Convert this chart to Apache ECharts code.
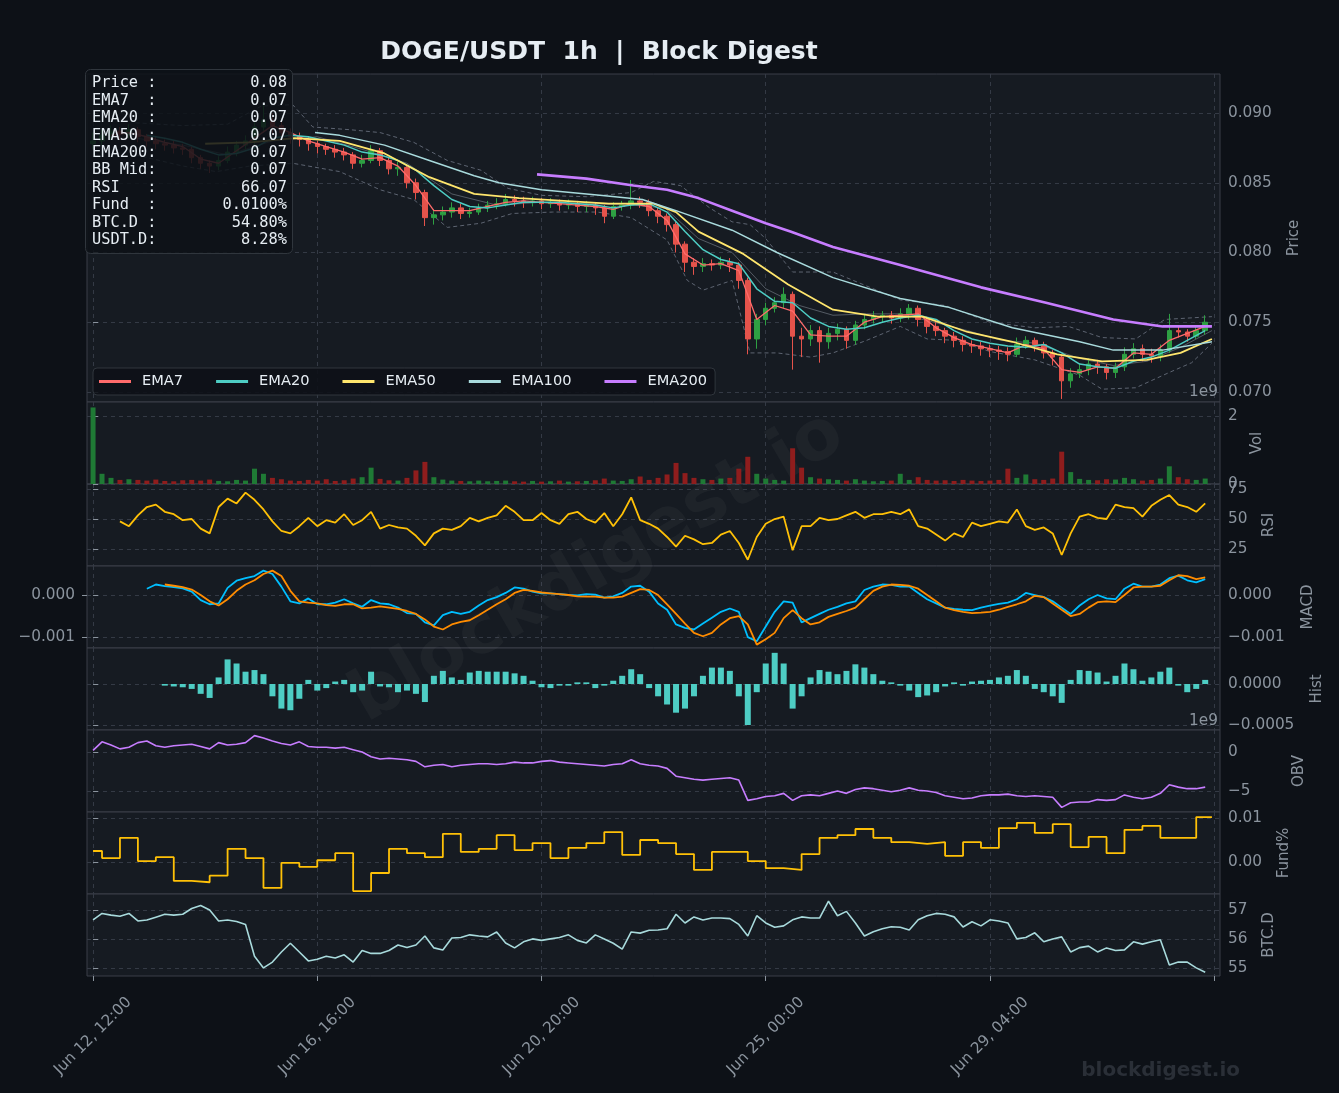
<!DOCTYPE html>
<html>
<head>
<meta charset="utf-8">
<title>DOGE/USDT 1h | Block Digest</title>
<script src="https://cdn.jsdelivr.net/npm/echarts@6.0.0/dist/echarts.min.js"></script>
<style>
html,body{margin:0;padding:0;background:#0d1117;}
#chart{width:1339px;height:1093px;}
</style>
</head>
<body>
<div id="chart"></div>
<script>
// ---- data (hours counted from Jun 12, 12:00) ----
var startUtc = Date.UTC(2024, 5, 12, 12);
var xTickHours = [0, 100, 200, 300, 400, 500];
var sampleStep = 4;      // hours between samples of the 4h arrays
var emaFastStep = 8;     // hours between samples of ema7 / ema20
var fundStep = 8;        // funding changes every 8h

var firstOpen = 0.0878;
var closes = [
 .0880,.0884,.0887,.0885,.0888,.0883,.0880,.0878,.0877,.0875,
 .0874,.0868,.0864,.0862,.0866,.0872,.0877,.0880,.0890,.0895,
 .0891,.0886,.0883,.0881,.0878,.0876,.0874,.0872,.0870,.0864,
 .0866,.0873,.0866,.0860,.0861,.0850,.0843,.0825,.0827,.0829,
 .0832,.0828,.0829,.0832,.0834,.0835,.0838,.0837,.0836,.0837,
 .0835,.0836,.0834,.0835,.0833,.0834,.0832,.0826,.0833,.0834,
 .0837,.0836,.0830,.0826,.0820,.0806,.0793,.0790,.0792,.0791,
 .0793,.0791,.0780,.0738,.0752,.0760,.0764,.0770,.0740,.0738,
 .0744,.0736,.0742,.0745,.0737,.0748,.0752,.0754,.0755,.0753,
 .0756,.0760,.0752,.0747,.0744,.0740,.0737,.0734,.0733,.0731,
 .0730,.0729,.0727,.0734,.0737,.0734,.0728,.0725,.0708,.0713,
 .0716,.0720,.0718,.0714,.0718,.0727,.0731,.0727,.0726,.0730,
 .0744,.0743,.0740,.0744,.0750];
var lows = [
 .0874,.0877,.0881,.0881,.0882,.0879,.0876,.0874,.0873,.0871,
 .0870,.0864,.0860,.0857,.0859,.0864,.0869,.0874,.0877,.0886,
 .0885,.0881,.0878,.0876,.0873,.0871,.0870,.0868,.0866,.0860,
 .0861,.0864,.0862,.0856,.0855,.0846,.0838,.0819,.0820,.0823,
 .0825,.0824,.0825,.0827,.0829,.0831,.0833,.0833,.0832,.0833,
 .0831,.0832,.0830,.0831,.0829,.0829,.0827,.0821,.0824,.0830,
 .0831,.0832,.0826,.0821,.0815,.0800,.0786,.0784,.0786,.0787,
 .0788,.0786,.0774,.0727,.0731,.0748,.0757,.0760,.0716,.0725,
 .0733,.0721,.0731,.0737,.0731,.0734,.0745,.0749,.0750,.0749,
 .0750,.0752,.0747,.0742,.0740,.0735,.0732,.0729,.0728,.0726,
 .0725,.0723,.0722,.0725,.0731,.0729,.0724,.0719,.0695,.0703,
 .0710,.0712,.0713,.0709,.0710,.0715,.0724,.0722,.0721,.0722,
 .0728,.0739,.0736,.0738,.0741];
var highs = [
 .0886,.0888,.0891,.0890,.0892,.0890,.0885,.0883,.0881,.0880,
 .0878,.0876,.0870,.0866,.0869,.0876,.0880,.0884,.0894,.0906,
 .0900,.0894,.0889,.0886,.0883,.0880,.0878,.0877,.0875,.0872,
 .0870,.0877,.0875,.0868,.0865,.0863,.0853,.0845,.0831,.0833,
 .0836,.0835,.0832,.0835,.0837,.0839,.0842,.0841,.0840,.0840,
 .0839,.0839,.0838,.0838,.0837,.0837,.0836,.0834,.0836,.0837,
 .0852,.0840,.0838,.0832,.0828,.0822,.0808,.0796,.0796,.0795,
 .0797,.0796,.0793,.0782,.0756,.0764,.0768,.0775,.0772,.0746,
 .0748,.0747,.0746,.0749,.0747,.0751,.0756,.0758,.0758,.0758,
 .0760,.0763,.0762,.0754,.0750,.0746,.0743,.0740,.0737,.0736,
 .0734,.0733,.0732,.0739,.0740,.0739,.0736,.0730,.0727,.0717,
 .0720,.0724,.0723,.0720,.0721,.0732,.0735,.0734,.0731,.0734,
 .0756,.0748,.0745,.0748,.0755];

var ema7 = [
 null,.0884,.0886,.0883,.0879,.0876,.0867,.0864,.0873,.0882,
 .0891,.0886,.0880,.0876,.0872,.0867,.0868,.0862,.0848,.0830,
 .0830,.0830,.0833,.0836,.0837,.0836,.0835,.0834,.0833,.0831,
 .0835,.0833,.0823,.0799,.0791,.0792,.0787,.0752,.0762,.0758,
 .0741,.0740,.0740,.0750,.0754,.0755,.0756,.0746,.0739,.0734,
 .0731,.0728,.0734,.0731,.0716,.0714,.0718,.0717,.0728,.0727,
 .0737,.0742,.0747];
var ema20 = [
 null,null,null,.0884,.0882,.0879,.0874,.0870,.0871,.0875,
 .0882,.0884,.0883,.0880,.0877,.0872,.0870,.0866,.0859,.0848,
 .0838,.0833,.0832,.0834,.0836,.0836,.0836,.0835,.0834,.0832,
 .0834,.0835,.0829,.0815,.0802,.0795,.0792,.0774,.0765,.0764,
 .0753,.0747,.0745,.0746,.0750,.0753,.0755,.0752,.0744,.0738,
 .0735,.0733,.0732,.0734,.0728,.0720,.0718,.0717,.0722,.0725,
 .0730,.0737,.0744];
var ema50Hours = [50,70,90,110,130,150,170,190,210,230,250,260,270,290,310,330,350,370,390,410,430,450,470,485,499];
var ema50 = [.0878,.0879,.0882,.0880,.0871,.0854,.0842,.0839,.0837,.0835,.0835,.0829,.0815,.0799,.0777,.0759,.0754,.0754,.0743,.0736,.0727,.0722,.0723,.0728,.0738];
var ema100Hours = [99,110,130,150,170,181,200,226,245,260,285,305,330,360,381,410,440,455,477,499];
var ema100 = [.0886,.0884,.0877,.0866,.0855,.0850,.0845,.0841,.0838,.0830,.0816,.0800,.0782,.0767,.0761,.0746,.0736,.0730,.0730,.0736];
var ema200Hours = [198,220,241,256,270,285,300,311,330,360,396,425,455,477,499];
var ema200 = [.0856,.0853,.0848,.0845,.0839,.0830,.0821,.0815,.0804,.0791,.0775,.0764,.0752,.0747,.0747];

var bbUpHours = [19,40,60,75,89,98,115,128,143,158,173,185,200,220,240,250,262,275,285,293,300,312,330,345,360,380,400,420,435,450,465,478,499];
var bbUp = [.0893,.0891,.0892,.0905,.0906,.0890,.0888,.0886,.0879,.0866,.0859,.0846,.0841,.0840,.0843,.0851,.0848,.0832,.0822,.0820,.0810,.0786,.0786,.0776,.0766,.0762,.0750,.0746,.0747,.0739,.0738,.0752,.0754];
var bbLowHours = [19,40,55,70,89,110,128,143,158,173,187,205,225,240,256,265,272,285,293,305,320,330,345,360,372,385,400,420,440,450,465,480,490,499];
var bbLow = [.0870,.0862,.0858,.0862,.0864,.0858,.0845,.0838,.0818,.0821,.0828,.0829,.0829,.0825,.0809,.0780,.0773,.0780,.0728,.0728,.0725,.0728,.0737,.0747,.0738,.0737,.0729,.0723,.0712,.0702,.0703,.0714,.0721,.0735];
var bbMidHours = [19,40,60,80,100,120,140,160,180,200,220,240,255,270,285,300,315,330,345,360,375,390,405,420,440,455,470,485,499];
var bbMid = [.0882,.0877,.0870,.0880,.0883,.0874,.0864,.0842,.0834,.0836,.0835,.0834,.0832,.0810,.0800,.0774,.0762,.0755,.0756,.0756,.0750,.0744,.0737,.0735,.0724,.0719,.0722,.0732,.0744];

// volume in units of 1e9
var volumes = [
 2.25,0.30,0.18,0.12,0.14,0.12,0.10,0.13,0.09,0.08,
 0.11,0.12,0.10,0.13,0.09,0.08,0.12,0.10,0.45,0.30,
 0.18,0.14,0.10,0.09,0.12,0.10,0.14,0.09,0.11,0.16,
 0.20,0.48,0.15,0.11,0.10,0.18,0.40,0.65,0.20,0.13,
 0.10,0.09,0.08,0.10,0.08,0.09,0.10,0.08,0.07,0.09,
 0.07,0.08,0.10,0.07,0.08,0.09,0.11,0.16,0.10,0.09,
 0.14,0.22,0.12,0.18,0.28,0.62,0.32,0.18,0.14,0.12,
 0.16,0.18,0.45,0.80,0.30,0.16,0.12,0.10,1.05,0.48,
 0.20,0.16,0.14,0.12,0.10,0.14,0.10,0.08,0.09,0.10,
 0.30,0.12,0.20,0.12,0.10,0.11,0.09,0.12,0.10,0.09,
 0.10,0.12,0.45,0.18,0.28,0.14,0.12,0.16,0.95,0.35,
 0.15,0.12,0.11,0.14,0.13,0.18,0.14,0.10,0.12,0.16,
 0.52,0.20,0.14,0.12,0.16];

var rsi = [
 null,null,null,48,44,53,60,62,56,54,
 49,50,42,38,60,67,63,72,66,58,
 48,40,38,44,51,44,49,47,54,45,
 49,56,42,45,43,42,36,28,38,42,
 41,44,51,48,51,53,61,56,49,49,
 55,49,46,54,56,50,47,55,44,54,
 68,49,46,42,35,27,36,33,29,30,
 37,40,30,16,35,46,50,52,24,44,
 44,51,49,50,53,56,51,54,54,56,
 54,58,44,42,37,32,38,35,47,44,
 46,48,47,58,44,41,43,38,20,38,
 52,54,51,50,62,60,59,52,61,66,
 70,62,60,56,63];

var macd = [
 null,null,null,null,null,null,.00015,.00025,.00021,.00019,
 .00016,.00008,-.00012,-.00022,-.00020,.00017,.00034,.00040,.00045,.00058,
 .00050,.00020,-.00015,-.00020,-.00008,-.00022,-.00022,-.00018,-.00010,-.00020,
 -.00028,-.00012,-.00020,-.00022,-.00030,-.00043,-.00045,-.00065,-.00072,-.00048,
 -.00040,-.00045,-.00040,-.00025,-.00012,-.00005,.00005,.00018,.00015,.00008,
 .00004,.00004,.00002,.00000,-.00001,.00002,.00001,-.00006,-.00003,.00005,
 .00020,.00022,.00008,-.00020,-.00035,-.00070,-.00078,-.00082,-.00068,-.00054,
 -.00040,-.00032,-.00040,-.00100,-.00110,-.00075,-.00040,-.00015,-.00018,-.00065,
 -.00055,-.00045,-.00035,-.00028,-.00020,-.00015,.00012,.00020,.00025,.00024,
 .00020,.00020,.00005,-.00010,-.00020,-.00030,-.00033,-.00035,-.00036,-.00030,
 -.00025,-.00021,-.00018,-.00010,.00005,.00000,-.00005,-.00015,-.00030,-.00045,
 -.00025,-.00010,.00000,-.00008,-.00010,.00015,.00027,.00020,.00020,.00025,
 .00040,.00046,.00035,.00030,.00038];
var macdSignal = [
 null,null,null,null,null,null,null,null,.00025,.00022,
 .00019,.00013,.00000,-.00015,-.00025,-.00010,.00010,.00025,.00035,.00050,
 .00058,.00045,.00010,-.00015,-.00018,-.00020,-.00024,-.00026,-.00022,-.00022,
 -.00032,-.00030,-.00027,-.00030,-.00033,-.00038,-.00045,-.00058,-.00075,-.00082,
 -.00070,-.00064,-.00060,-.00048,-.00035,-.00022,-.00010,.00005,.00012,.00010,
 .00006,.00004,.00002,.00000,-.00003,-.00004,-.00004,-.00006,-.00006,-.00004,
 .00005,.00014,.00012,.00000,-.00022,-.00045,-.00068,-.00090,-.00098,-.00090,
 -.00070,-.00055,-.00050,-.00070,-.00118,-.00105,-.00090,-.00055,-.00036,-.00055,
 -.00070,-.00065,-.00052,-.00045,-.00038,-.00030,-.00010,.00010,.00020,.00025,
 .00024,.00022,.00015,.00000,-.00015,-.00030,-.00036,-.00040,-.00043,-.00042,
 -.00040,-.00035,-.00028,-.00022,-.00015,-.00002,-.00005,-.00020,-.00035,-.00050,
 -.00045,-.00030,-.00017,-.00015,-.00017,.00000,.00018,.00020,.00020,.00022,
 .00035,.00047,.00045,.00038,.00042];
var macdHist = [
 null,null,null,null,null,null,null,null,-.00002,-.00003,
 -.00004,-.00006,-.00012,-.00017,.00008,.00030,.00025,.00015,.00017,.00012,
 -.00015,-.00030,-.00032,-.00018,.00005,-.00008,-.00005,.00003,.00005,-.00010,
 -.00008,.00015,-.00003,-.00004,-.00010,-.00008,-.00012,-.00022,.00010,.00016,
 .00008,.00005,.00014,.00016,.00015,.00015,.00015,.00013,.00010,.00004,
 -.00004,-.00005,-.00002,-.00002,.00002,.00002,-.00005,-.00002,.00004,.00010,
 .00018,.00012,-.00005,-.00015,-.00025,-.00035,-.00030,-.00015,.00010,.00020,
 .00020,.00016,-.00015,-.00050,-.00010,.00025,.00038,.00025,-.00030,-.00015,
 .00008,.00017,.00015,.00012,.00016,.00024,.00020,.00012,.00004,.00002,
 -.00002,-.00008,-.00016,-.00014,-.00010,-.00003,.00002,-.00002,.00003,.00004,
 .00005,.00008,.00010,.00017,.00010,-.00006,-.00010,-.00015,-.00023,.00005,
 .00017,.00016,.00014,.00003,.00010,.00025,.00018,.00004,.00008,.00015,
 .00020,-.00002,-.00010,-.00006,.00005];

// OBV in units of 1e9
var obv = [
 0.2,1.3,0.9,0.4,0.6,1.2,1.4,0.8,0.6,0.8,
 0.9,1.0,0.7,0.4,1.2,0.9,1.0,1.2,2.1,1.8,
 1.4,1.1,0.9,1.3,0.7,0.6,0.6,0.5,0.6,0.3,
 0.0,-0.6,-0.9,-0.8,-0.9,-1.0,-1.2,-1.9,-1.7,-1.6,
 -1.9,-1.7,-1.6,-1.5,-1.5,-1.6,-1.5,-1.3,-1.4,-1.4,
 -1.2,-1.1,-1.3,-1.4,-1.5,-1.6,-1.7,-1.8,-1.6,-1.5,
 -1.0,-1.5,-1.7,-1.8,-2.1,-3.1,-3.3,-3.5,-3.6,-3.5,
 -3.4,-3.3,-3.6,-6.2,-6.0,-5.7,-5.6,-5.3,-6.2,-5.6,
 -5.5,-5.6,-5.3,-5.0,-5.3,-4.8,-4.6,-4.7,-4.9,-5.1,
 -4.9,-4.6,-4.9,-5.0,-5.2,-5.6,-5.8,-6.0,-5.9,-5.6,
 -5.5,-5.5,-5.4,-5.6,-5.7,-5.6,-5.7,-5.8,-7.1,-6.5,
 -6.4,-6.4,-6.1,-6.2,-6.1,-5.5,-5.8,-6.0,-5.8,-5.3,
 -4.2,-4.5,-4.7,-4.7,-4.5];

// funding rate (%), one value per 8h window
var fund = [
 .0025,.0009,.0055,.0002,.0011,-.0043,-.0046,-.0031,.0030,.0009,
 -.0059,-.0002,-.0011,.0004,.0020,-.0066,-.0025,.0030,.0020,.0011,
 .0064,.0023,.0030,.0061,.0027,.0043,.0009,.0032,.0043,.0068,
 .0016,.0050,.0043,.0018,-.0018,.0023,.0023,.0002,-.0014,-.0018,
 .0018,.0055,.0061,.0075,.0055,.0045,.0041,.0045,.0014,.0045,
 .0032,.0077,.0089,.0066,.0086,.0034,.0057,.0020,.0073,.0082,
 .0055,.0055,.0102];

var btcDom = [
 56.66,56.88,56.82,56.78,56.88,56.62,56.65,56.75,56.85,56.82,
 56.85,57.05,57.15,57.00,56.62,56.65,56.60,56.50,55.40,55.00,
 55.20,55.55,55.85,55.55,55.24,55.30,55.40,55.34,55.45,55.20,
 55.60,55.50,55.50,55.60,55.79,55.70,55.79,56.10,55.69,55.62,
 56.03,56.05,56.14,56.10,56.07,56.24,55.86,55.69,55.90,56.00,
 55.95,56.00,56.05,56.14,55.95,55.86,56.14,56.00,55.85,55.65,
 56.24,56.20,56.30,56.31,56.35,56.85,56.55,56.76,56.65,56.72,
 56.72,56.70,56.50,56.10,56.80,56.55,56.40,56.45,56.66,56.76,
 56.72,56.72,57.30,56.80,56.95,56.55,56.10,56.25,56.35,56.42,
 56.40,56.31,56.66,56.80,56.88,56.85,56.76,56.41,56.59,56.45,
 56.66,56.62,56.55,56.00,56.05,56.21,55.90,56.00,56.07,55.55,
 55.70,55.75,55.55,55.69,55.60,55.62,55.90,55.82,55.90,55.97,
 55.10,55.20,55.20,55.00,54.85];

var infoLabels = ['Price :','EMA7  :','EMA20 :','EMA50 :','EMA200:','BB Mid:','RSI   :','Fund  :','BTC.D :','USDT.D:'];
var infoValues = ['0.08','0.07','0.07','0.07','0.07','0.07','66.07','0.0100%','54.80%','8.28%'];
var legendNames = ['EMA7','EMA20','EMA50','EMA100','EMA200'];

// ---- helpers ----
var MONTHS = ['Jan','Feb','Mar','Apr','May','Jun','Jul','Aug','Sep','Oct','Nov','Dec'];
function pad2(n) { return (n < 10 ? '0' : '') + n; }
function fmtHour(h) {
	if (h >= 500) return '';
	var d = new Date(startUtc + h * 3600000);
	return MONTHS[d.getUTCMonth()] + ' ' + d.getUTCDate() + ', ' + pad2(d.getUTCHours()) + ':00';
}
function minus(s, v) { return (v < 0 ? '\u2212' : '') + s; }
function stepped(arr, step) {
	return arr.map(function (v, i) { return [i * step, v]; });
}
function paired(hours, vals) {
	return hours.map(function (h, i) { return [h, vals[i]]; });
}

var TEXT = '#8b949e';
var GRIDLINE = '#343a45';
var BORDER = '#3a3f48';
var TICK_FONT = 15.3;
var tops = [74, 402, 484, 566, 648, 730, 812, 894];
var heights = [328, 82, 82, 82, 82, 82, 82, 82];
var xMin = -2.7, xMax = 502.6;

var grids = tops.map(function (t, i) {
	return {left: 87, right: 119, top: t, height: heights[i], show: true,
		backgroundColor: '#161b22', borderColor: BORDER, borderWidth: 1, outerBoundsMode: 'none'};
});

var xAxes = tops.map(function (t, i) {
	var last = i === tops.length - 1;
	return {
		type: 'value', gridIndex: i, min: xMin, max: xMax,
		axisLine: {show: false},
		axisTick: {show: last, length: 5, lineStyle: {color: TEXT}, customValues: xTickHours},
		axisLabel: {show: last, customValues: xTickHours, rotate: 45, align: 'center',
			verticalAlign: 'middle', margin: 60, color: TEXT, fontSize: TICK_FONT, formatter: fmtHour},
		splitLine: {show: true, lineStyle: {color: GRIDLINE, type: [4, 4], width: 1}}
	};
});

function yAxis(i, cfg) {
	return {
		type: 'value', gridIndex: i, position: cfg.left ? 'left' : 'right',
		min: cfg.min, max: cfg.max,
		name: cfg.name || '', nameLocation: 'middle', nameGap: cfg.gap || 0, nameRotate: 90,
		nameTextStyle: {color: TEXT, fontSize: 15},
		axisLine: {show: false},
		axisTick: {show: true, length: 5, lineStyle: {color: TEXT}, customValues: cfg.ticks},
		axisLabel: {color: TEXT, fontSize: TICK_FONT, margin: cfg.left ? 12 : 8, customValues: cfg.ticks, formatter: cfg.fmt},
		splitLine: {show: !cfg.left, lineStyle: {color: GRIDLINE, type: [4, 4], width: 1}}
	};
}

var yAxes = [
	yAxis(0, {min: 0.06928, max: 0.09280, ticks: [0.070, 0.075, 0.080, 0.085, 0.090], name: 'Price', gap: 67,
		fmt: function (v) { return v.toFixed(3); }}),
	yAxis(1, {min: 0, max: 2.41, ticks: [0, 2], name: 'Vol', gap: 30,
		fmt: function (v) { return String(Math.round(v)); }}),
	yAxis(2, {min: 10.8, max: 79.2, ticks: [25, 50, 75], name: 'RSI', gap: 42,
		fmt: function (v) { return String(v); }}),
	yAxis(3, {min: -0.00126, max: 0.00069, ticks: [-0.001, 0], name: 'MACD', gap: 81,
		fmt: function (v) { return minus(Math.abs(v).toFixed(3), v); }}),
	yAxis(4, {min: -0.000561, max: 0.000439, ticks: [-0.0005, 0], name: 'Hist', gap: 90,
		fmt: function (v) { return minus(Math.abs(v).toFixed(4), v); }}),
	yAxis(5, {min: -7.69, max: 2.82, ticks: [-5, 0], name: 'OBV', gap: 72,
		fmt: function (v) { return minus(String(Math.abs(v)), v); }}),
	yAxis(6, {min: -0.00727, max: 0.01136, ticks: [0, 0.01], name: 'Fund%', gap: 57,
		fmt: function (v) { return v.toFixed(2); }}),
	yAxis(7, {min: 54.72, max: 57.55, ticks: [55, 56, 57], name: 'BTC.D', gap: 42,
		fmt: function (v) { return String(v); }}),
	yAxis(3, {left: true, min: -0.00126, max: 0.00069, ticks: [-0.001, 0],
		fmt: function (v) { return minus(Math.abs(v).toFixed(3), v); }})
];

// ---- series ----
var candleData = closes.map(function (c, k) {
	var o = k === 0 ? firstOpen : closes[k - 1];
	return [k * sampleStep, o, c, lows[k], highs[k]];
});
var volData = volumes.map(function (v, k) {
	var up = candleData[k][2] >= candleData[k][1];
	return {value: [k * sampleStep, v], itemStyle: {color: up ? '#1f7a35' : '#8f1d1d'}};
});
var fundData = fund.map(function (v, j) { return [j === 0 ? 0 : j * fundStep - 4, v]; });
fundData.push([499, fund[fund.length - 1]]);

function line(name, xi, yi, data, color, width, extra) {
	var s = {name: name, type: 'line', xAxisIndex: xi, yAxisIndex: yi, data: data,
		showSymbol: false, symbol: 'none', color: color, connectNulls: false,
		lineStyle: {color: color, width: width}, z: 3, silent: true};
	if (extra) for (var k in extra) s[k] = extra[k];
	return s;
}

var series = [
	line('BB Up', 0, 0, paired(bbUpHours, bbUp), '#5d6471', 1, {lineStyle: {color: '#5d6471', width: 1, type: [4, 3]}, z: 2}),
	line('BB Low', 0, 0, paired(bbLowHours, bbLow), '#5d6471', 1, {lineStyle: {color: '#5d6471', width: 1, type: [4, 3]}, z: 2}),
	line('BB Mid', 0, 0, paired(bbMidHours, bbMid), '#7d8590', 1, {lineStyle: {color: '#7d8590', width: 1, opacity: 0.6}, z: 2}),
	{name: 'Price', type: 'candlestick', xAxisIndex: 0, yAxisIndex: 0, data: candleData,
		encode: {x: 0, y: [1, 2, 3, 4]}, barWidth: 5, z: 2, silent: true,
		itemStyle: {color: '#2ea043', color0: '#e5534b', borderColor: '#2ea043', borderColor0: '#e5534b', borderWidth: 1}},
	line('EMA7', 0, 0, stepped(ema7, emaFastStep), '#ff6b6b', 1.3),
	line('EMA20', 0, 0, stepped(ema20, emaFastStep), '#4ecdc4', 1.5),
	line('EMA50', 0, 0, paired(ema50Hours, ema50), '#ffe66d', 1.8),
	line('EMA100', 0, 0, paired(ema100Hours, ema100), '#a8dadc', 1.5),
	line('EMA200', 0, 0, paired(ema200Hours, ema200), '#c77dff', 2.6),
	{name: 'Vol', type: 'bar', xAxisIndex: 1, yAxisIndex: 1, data: volData, barWidth: 5, silent: true},
	line('RSI', 2, 2, stepped(rsi, sampleStep), '#ffc107', 1.8),
	line('MACD', 3, 3, stepped(macd, sampleStep), '#00bfff', 1.8),
	line('Signal', 3, 3, stepped(macdSignal, sampleStep), '#ff8c00', 1.8),
	{name: 'Hist', type: 'bar', xAxisIndex: 4, yAxisIndex: 4, data: stepped(macdHist, sampleStep),
		barWidth: 6, itemStyle: {color: '#4ecdc4'}, silent: true},
	line('OBV', 5, 5, stepped(obv, sampleStep), '#c77dff', 1.6),
	line('Fund', 6, 6, fundData, '#ffc107', 1.8, {step: 'end'}),
	line('BTC.D', 7, 7, stepped(btcDom, sampleStep), '#a8dadc', 1.6)
];

var graphics = [
	{type: 'text', x: 599, y: 52, z: 10, style: {text: 'DOGE/USDT  1h  |  Block Digest', fill: '#e6edf3',
		fontSize: 25, fontWeight: 'bold', fontFamily: 'DejaVu Sans', align: 'center', verticalAlign: 'middle'}},
	{type: 'text', x: 598, y: 568, rotation: 30 * Math.PI / 180, z: 1, silent: true,
		style: {text: 'blockdigest.io', fill: 'rgba(255,255,255,0.035)', fontSize: 70, fontWeight: 'bold',
			fontFamily: 'DejaVu Sans', align: 'center', verticalAlign: 'middle'}},
	{type: 'text', x: 1240, y: 1071, z: 10, style: {text: 'blockdigest.io', fill: '#2a2f37', fontSize: 20,
		fontWeight: 'bold', fontFamily: 'DejaVu Sans', align: 'right', verticalAlign: 'middle'}},
	{type: 'text', x: 1218, y: 392, z: 10, style: {text: '1e9', fill: TEXT, fontSize: TICK_FONT,
		fontFamily: 'DejaVu Sans', align: 'right', verticalAlign: 'middle'}},
	{type: 'text', x: 1218, y: 721, z: 10, style: {text: '1e9', fill: TEXT, fontSize: TICK_FONT,
		fontFamily: 'DejaVu Sans', align: 'right', verticalAlign: 'middle'}},
	{type: 'rect', z: 20, shape: {x: 85.5, y: 69.5, width: 207, height: 184, r: 5},
		style: {fill: 'rgba(13,17,23,0.86)', stroke: '#30363d', lineWidth: 1}},
	{type: 'text', x: 92, y: 74.6, z: 21, style: {text: infoLabels.join('\n'), fill: '#e6edf3',
		fontSize: 15.3, fontFamily: 'DejaVu Sans Mono', lineHeight: 17.44, align: 'left', verticalAlign: 'top'}},
	{type: 'text', x: 287, y: 74.6, z: 21, style: {text: infoValues.join('\n'), fill: '#e6edf3',
		fontSize: 15.3, fontFamily: 'DejaVu Sans Mono', lineHeight: 17.44, align: 'right', verticalAlign: 'top'}}
];

var chart = echarts.init(document.getElementById('chart'), null, {renderer: 'canvas'});
chart.setOption({
	animation: false,
	backgroundColor: '#0d1117',
	textStyle: {fontFamily: 'DejaVu Sans'},
	grid: grids,
	xAxis: xAxes,
	yAxis: yAxes,
	legend: {
		data: legendNames, left: 93, top: 368, icon: 'rect', itemWidth: 32, itemHeight: 3, itemGap: 33,
		padding: [6, 8, 6, 6], backgroundColor: 'rgba(13,17,23,0.9)', borderColor: '#30363d',
		borderWidth: 1, borderRadius: 4, selectedMode: false,
		textStyle: {color: '#e6edf3', fontSize: 14.6, padding: [0, 0, 0, 6]}
	},
	graphic: graphics,
	series: series
});
</script>
</body>
</html>
